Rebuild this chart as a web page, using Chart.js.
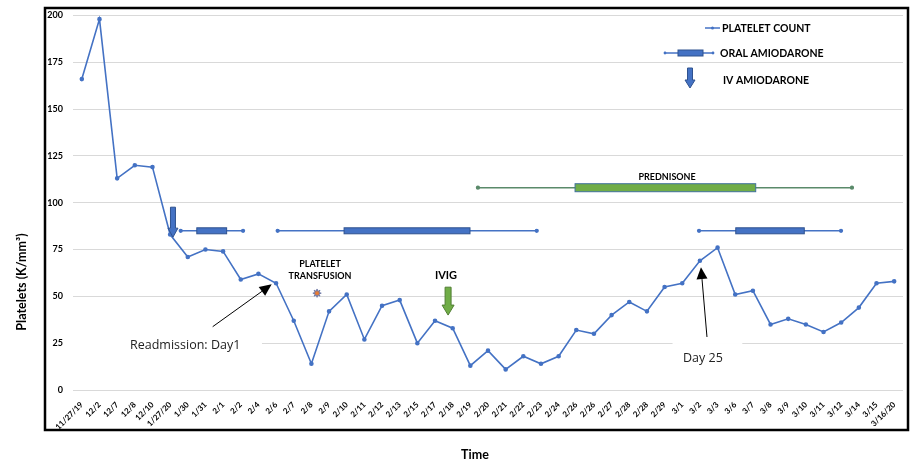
<!DOCTYPE html>
<html>
<head>
<meta charset="utf-8">
<script src="https://cdn.jsdelivr.net/npm/chart.js@4.4.1/dist/chart.umd.min.js"></script>
<style>
  html, body { margin: 0; padding: 0; background: #fff; }
  #wrap { width: 911px; height: 464px; }
</style>
</head>
<body>
<div id="wrap"><canvas id="chart" width="911" height="464"></canvas></div>
<script>
// Datos
const dates = ['11/27/19', '12/2', '12/7', '12/8', '12/10', '1/27/20', '1/30', '1/31', '2/1', '2/2',
  '2/4', '2/6', '2/7', '2/8', '2/9', '2/10', '2/11', '2/12', '2/13', '2/15',
  '2/17', '2/18', '2/19', '2/20', '2/21', '2/22', '2/23', '2/24', '2/26', '2/26',
  '2/27', '2/28', '2/28', '2/29', '3/1', '3/2', '3/3', '3/6', '3/7', '3/8',
  '3/9', '3/10', '3/11', '3/12', '3/14', '3/15', '3/16/20'];
const platelets = [166, 198, 113, 120, 119, 83, 71, 75, 74, 59,
  62, 57, 37, 14, 42, 51, 27, 45, 48, 25,
  37, 33, 13, 21, 11, 18, 14, 18, 32, 30,
  40, 47, 42, 55, 57, 69, 76, 51, 53, 35,
  38, 35, 31, 36, 44, 57, 58];
const yMax = 200;
const yStep = 25;

// tratamientos (posicion en indice de fecha)
const oralThin = [[5.60, 9.13], [11.09, 25.76], [34.95, 42.99]];
const oralThick = [[6.51, 8.20], [14.85, 21.98], [37.03, 40.91]];
const oralLevel = 85;
const prednisoneThin = [22.43, 43.61];
const prednisoneThick = [27.93, 38.16];
const prednisoneLevel = 108;
const ivAmio = [5.16, 97.6, 81.6];      // x, desde, hasta
const ivig = [20.74, 54.9, 40];
const transfusion = [13.32, 51.7];

const BLUE = '#4472C4';
const GREEN = '#70AD47';

function blockArrow(ctx, x, y0, y1, shaftW, headW, headL, fill, stroke) {
  ctx.beginPath();
  ctx.moveTo(x - shaftW / 2, y0);
  ctx.lineTo(x + shaftW / 2, y0);
  ctx.lineTo(x + shaftW / 2, y1 - headL);
  ctx.lineTo(x + headW / 2, y1 - headL);
  ctx.lineTo(x, y1);
  ctx.lineTo(x - headW / 2, y1 - headL);
  ctx.lineTo(x - shaftW / 2, y1 - headL);
  ctx.closePath();
  ctx.fillStyle = fill;
  ctx.fill();
  ctx.strokeStyle = stroke;
  ctx.lineWidth = 1;
  ctx.stroke();
}

function lineArrow(ctx, x0, y0, x1, y1) {
  const a = Math.atan2(y1 - y0, x1 - x0);
  const len = 12, w = 5.5;
  const bx = x1 - len * Math.cos(a), by = y1 - len * Math.sin(a);
  ctx.strokeStyle = '#000';
  ctx.lineWidth = 1;
  ctx.beginPath();
  ctx.moveTo(x0, y0);
  ctx.lineTo(bx, by);
  ctx.stroke();
  ctx.fillStyle = '#000';
  ctx.beginPath();
  ctx.moveTo(x1, y1);
  ctx.lineTo(bx + w * Math.sin(a), by - w * Math.cos(a));
  ctx.lineTo(bx - w * Math.sin(a), by + w * Math.cos(a));
  ctx.closePath();
  ctx.fill();
}

function thickBar(ctx, xs, ys, seg, level, h, fill, stroke) {
  const x0 = xs.getPixelForValue(seg[0]);
  const x1 = xs.getPixelForValue(seg[1]);
  const y = ys.getPixelForValue(level);
  ctx.fillStyle = fill;
  ctx.fillRect(x0, y - h / 2, x1 - x0, h);
  ctx.strokeStyle = stroke;
  ctx.lineWidth = 1;
  ctx.strokeRect(x0, y - h / 2, x1 - x0, h);
}

const extras = {
  id: 'extras',
  afterDraw(chart) {
    const ctx = chart.ctx;
    const xs = chart.scales.x, ys = chart.scales.y;
    const px = v => xs.getPixelForValue(v);
    const py = v => ys.getPixelForValue(v);
    ctx.save();

    // barras gruesas
    oralThick.forEach(s => thickBar(ctx, xs, ys, s, oralLevel, 6, BLUE, '#2F528F'));
    thickBar(ctx, xs, ys, prednisoneThick, prednisoneLevel, 8, GREEN, '#41719C');

    // flechas
    blockArrow(ctx, px(ivAmio[0]), py(ivAmio[1]), py(ivAmio[2]), 5, 10, 9, BLUE, '#2F528F');
    blockArrow(ctx, px(ivig[0]), py(ivig[1]), py(ivig[2]), 6, 12, 10, GREEN, '#507E32');

    // transfusion
    const sx = px(transfusion[0]), sy = py(transfusion[1]);
    ctx.beginPath();
    for (let i = 0; i < 16; i++) {
      const r = i % 2 ? 2 : 4.2;
      const a = i * Math.PI / 8;
      ctx.lineTo(sx + r * Math.cos(a), sy + r * Math.sin(a));
    }
    ctx.closePath();
    ctx.fillStyle = '#ED7D31';
    ctx.fill();
    ctx.strokeStyle = '#5B6FA8';
    ctx.lineWidth = 0.8;
    ctx.stroke();

    // textos
    ctx.fillStyle = '#000';
    ctx.textAlign = 'center';
    ctx.textBaseline = 'middle';
    ctx.font = 'bold 9px Lato';
    ctx.fillText('PLATELET', px(13.49), py(67.2));
    ctx.fillText('TRANSFUSION', px(13.49), py(60.8));
    ctx.fillText('PREDNISONE', px(33.14), py(113.6));
    ctx.font = 'bold 11px Lato';
    ctx.fillText('IVIG', px(20.62), py(61.3));

    // notas con fondo blanco
    ctx.fillStyle = '#fff';
    ctx.fillRect(chart.chartArea.left, py(24) - 7, px(10.2) - chart.chartArea.left, 14);
    ctx.fillRect(px(33.45), py(17.6) - 14, px(37.4) - px(33.45), 24);
    ctx.fillStyle = '#222';
    ctx.font = '12.5px "Open Sans"';
    ctx.textAlign = 'left';
    ctx.fillText('Readmission: Day1', px(2.73), py(24));
    ctx.textAlign = 'center';
    ctx.fillText('Day 25', px(35.17), py(17.0));
    lineArrow(ctx, px(7.41), py(33.8), px(10.75), py(56.4));
    lineArrow(ctx, px(35.40), py(28.3), px(35.06), py(65.6));

    // leyenda
    ctx.textAlign = 'left';
    ctx.fillStyle = '#000';
    ctx.font = 'bold 10.5px Lato';
    ctx.strokeStyle = BLUE;
    ctx.lineWidth = 1.5;
    ctx.beginPath(); ctx.moveTo(705, 28); ctx.lineTo(720, 28); ctx.stroke();
    ctx.fillStyle = BLUE;
    ctx.beginPath(); ctx.arc(712.5, 28, 1.5, 0, Math.PI * 2); ctx.fill();
    ctx.beginPath(); ctx.moveTo(665, 53); ctx.lineTo(713, 53); ctx.stroke();
    ctx.beginPath(); ctx.arc(665, 53, 1.4, 0, Math.PI * 2); ctx.arc(713, 53, 1.4, 0, Math.PI * 2); ctx.fill();
    ctx.fillRect(678, 50, 25, 6);
    ctx.strokeStyle = '#2F528F'; ctx.lineWidth = 1; ctx.strokeRect(678, 50, 25, 6);
    blockArrow(ctx, 690, 68, 88, 5, 10, 8, BLUE, '#2F528F');
    ctx.fillStyle = '#000';
    ctx.fillText('PLATELET COUNT', 722, 28.5);
    ctx.fillText('ORAL AMIODARONE', 720, 53.5);
    ctx.fillText('IV AMIODARONE', 723, 80.5);

    // titulos de ejes
    ctx.font = 'bold 12.5px Lato';
    ctx.textAlign = 'center';
    ctx.fillText('Time', 475, 455);
    ctx.save();
    ctx.translate(22, 282);
    ctx.rotate(-Math.PI / 2);
    ctx.fillText('Platelets (K/mm\u00B3)', 0, 0);
    ctx.restore();

    // marco
    ctx.strokeStyle = '#000';
    ctx.lineWidth = 2.5;
    ctx.strokeRect(45, 8, 863, 422);
    ctx.restore();
  }
};

const thinSet = (seg, level, color) => ({
  data: [{ x: seg[0], y: level }, { x: seg[1], y: level }],
  borderColor: color,
  backgroundColor: color,
  borderWidth: 1.5,
  pointRadius: 1.4
});

new Chart(document.getElementById('chart'), {
  type: 'line',
  data: {
    datasets: [
      {
        label: 'PLATELET COUNT',
        data: platelets.map((v, i) => ({ x: i, y: v })),
        borderColor: BLUE,
        backgroundColor: BLUE,
        borderWidth: 1.6,
        pointRadius: 1.5,
        tension: 0
      },
      ...oralThin.map(s => thinSet(s, oralLevel, BLUE)),
      thinSet(prednisoneThin, prednisoneLevel, '#5A8A6A')
    ]
  },
  plugins: [extras],
  options: {
    responsive: false,
    animation: false,
    layout: { padding: { left: 45, right: 8, top: 15, bottom: 0 } },
    plugins: { legend: { display: false }, tooltip: { enabled: false } },
    scales: {
      x: {
        type: 'linear',
        min: -0.5,
        max: dates.length - 0.5,
        afterBuildTicks: s => { s.ticks = dates.map((d, i) => ({ value: i })); },
        afterFit: s => { s.height = 74; },
        grid: { display: false },
        border: { display: false },
        ticks: {
          autoSkip: false,
          maxRotation: 45,
          minRotation: 45,
          padding: 2,
          color: '#000',
          font: { family: 'Lato', size: 8, weight: 'bold' },
          callback: v => dates[v]
        }
      },
      y: {
        min: 0,
        max: yMax,
        afterFit: s => { s.width = 28; },
        grid: { color: '#d9d9d9', drawTicks: false },
        border: { display: false },
        ticks: {
          stepSize: yStep,
          padding: 10,
          color: '#000',
          font: { family: 'Lato', size: 9, weight: 'bold' }
        }
      }
    }
  }
});
</script>
</body>
</html>
